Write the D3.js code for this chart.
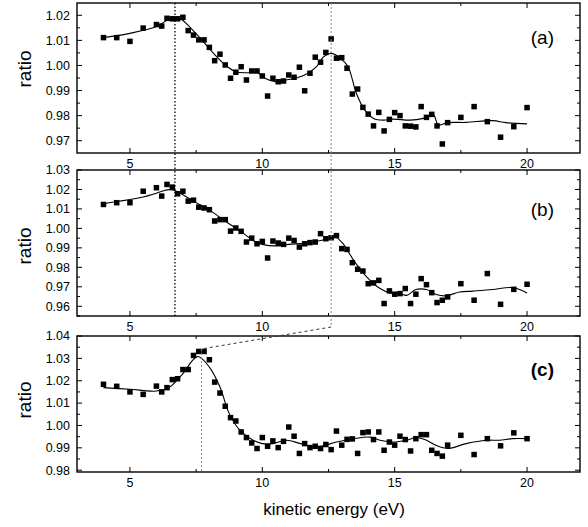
<!DOCTYPE html>
<html lang="en">
<head>
  <meta charset="UTF-8">
  <title>ratio vs kinetic energy</title>
  <script src="https://d3js.org/d3.v7.min.js"></script>
  <style>
    body { margin: 0; background: #fff; }
    svg { font-family: "Liberation Sans", Arial, sans-serif; }
    .tick-label { font-size: 12.5px; }
    .frame { fill: none; stroke: #000; stroke-width: 1.4px; }
    .fit { fill: none; stroke: #000; stroke-width: 1.1px; }
  </style>
</head>
<body>
<script>
// x values shared by all three panels (eV)
const energy = [4, 4.5, 5, 5.5,
  6, 6.2, 6.4, 6.6, 6.8, 7, 7.2, 7.4, 7.6, 7.8, 8, 8.2, 8.4, 8.6, 8.8, 9,
  9.2, 9.4, 9.6, 9.8, 10, 10.2, 10.4, 10.6, 10.8, 11, 11.2, 11.4, 11.6, 11.8, 12,
  12.2, 12.4, 12.6, 12.8, 13, 13.2, 13.4, 13.6, 13.8, 14, 14.2, 14.4, 14.6, 14.8, 15,
  15.2, 15.4, 15.6, 15.8, 16, 16.2, 16.4, 16.6, 16.8, 17,
  17.5, 18, 18.5, 19, 19.5, 20];

const ratioA = [1.0111, 1.0111, 1.0096, 1.0149,
  1.0163, 1.0157, 1.0188, 1.0186, 1.0186, 1.0192, 1.0139, 1.0121, 1.0102, 1.0102, 1.0072, 1.0019, 1.0045, 1.0002, 0.9949, 0.9973,
  0.9995, 0.9942, 0.9978, 0.9978, 0.9958, 0.9878, 0.9949, 0.9935, 0.9938, 0.9962, 0.9953, 0.9993, 0.9899, 0.9969, 1.0033,
  1.0013, 1.0052, 1.0106, 1.0029, 1.0031, 0.9989, 0.9886, 0.9906, 0.9833, 0.9806, 0.9759, 0.9813, 0.9739, 0.9785, 0.9812,
  0.9800, 0.9759, 0.9758, 0.9755, 0.9836, 0.9793, 0.9805, 0.9759, 0.9687, 0.9772,
  0.9793, 0.9836, 0.9776, 0.9714, 0.9756, 0.9832];

const ratioB = [1.0123, 1.0132, 1.0132, 1.0191,
  1.0209, 1.0166, 1.0226, 1.0212, 1.0178, 1.0191, 1.0140, 1.0145, 1.0109, 1.0105, 1.0096, 1.0038, 1.0045, 1.0045, 0.9986, 1.0002,
  0.9985, 0.9930, 0.9950, 0.9921, 0.9933, 0.9848, 0.9935, 0.9925, 0.9918, 0.9950, 0.9938, 0.9904, 0.9921, 0.9927, 0.9930,
  0.9973, 0.9947, 0.9952, 0.9963, 0.9896, 0.9892, 0.9824, 0.9790, 0.9781, 0.9716, 0.9720, 0.9733, 0.9614, 0.9679, 0.9662,
  0.9665, 0.9691, 0.9614, 0.9662, 0.9742, 0.9711, 0.9670, 0.9619, 0.9631, 0.9648,
  0.9716, 0.9631, 0.9768, 0.9610, 0.9687, 0.9713];

const ratioC = [1.0184, 1.0175, 1.0150, 1.0139,
  1.0176, 1.0150, 1.0169, 1.0205, 1.0209, 1.0250, 1.0250, 1.0313, 1.0331, 1.0331, 1.0294, 1.0194, 1.0145, 1.0086, 1.0035, 1.0020,
  0.9971, 0.9946, 0.9922, 0.9897, 0.9946, 0.9907, 0.9931, 0.9901, 0.9929, 0.9993, 0.9952, 0.9875, 0.9919, 0.9901, 0.9907,
  0.9897, 0.9915, 0.9892, 0.9975, 0.9912, 0.9938, 0.9940, 0.9875, 0.9968, 0.9971, 0.9937, 0.9971, 0.9889, 0.9926, 0.9912,
  0.9952, 0.9937, 0.9886, 0.9941, 0.9959, 0.9959, 0.9889, 0.9875, 0.9863, 0.9912,
  0.9956, 0.9870, 0.9941, 0.9909, 0.9967, 0.9941];

// smooth fit curves
const fitEnergyA = [4, 5, 6, 6.5, 6.9, 7.1, 7.6, 8.1, 8.6, 9, 9.4, 9.8, 10.1, 10.5, 10.9, 11.3, 11.6,
  12.05, 12.3, 12.55, 12.75, 12.95, 13.24, 13.55, 13.87, 14.2, 14.57, 14.95, 15.58, 16.08, 16.46, 16.65,
  17, 17.7, 18.7, 19.2, 20];
const fitRatioA = [1.0111, 1.0128, 1.0155, 1.0185, 1.0186, 1.0170, 1.0115, 1.0055, 1.0002, 0.9975, 0.9971, 0.9972, 0.9949, 0.9935, 0.9942, 0.9951, 0.9962,
  0.9995, 1.0033, 1.0048, 1.0044, 1.0029, 0.9995, 0.9889, 0.9822, 0.9789, 0.9782, 0.9786, 0.9782, 0.9789, 0.9803, 0.9763,
  0.9772, 0.9773, 0.9780, 0.9772, 0.9767];

const fitEnergyB = [4, 5.5, 6, 6.4, 6.6, 6.9, 7.4, 8, 8.65, 9.3, 9.65, 10, 10.5, 11, 11.67, 12.43, 12.75,
  13.07, 13.45, 13.95, 14.45, 14.83, 15.2, 15.45, 15.8, 16.2, 16.57, 16.95, 17.45, 17.95, 18.7, 19.45, 20];
const fitRatioB = [1.0127, 1.0161, 1.0181, 1.0198, 1.0198, 1.0181, 1.0140, 1.0094, 1.0033, 0.9973, 0.9938, 0.9918, 0.9910, 0.9918, 0.9925, 0.9944, 0.9956,
  0.9918, 0.9836, 0.9750, 0.9691, 0.9668, 0.9665, 0.9656, 0.9686, 0.9686, 0.9660, 0.9654, 0.9673, 0.9678, 0.9686, 0.9696, 0.9668];

const fitEnergyC = [4, 5, 6, 6.5, 7, 7.55, 8, 8.4, 8.75, 9.15, 9.65, 10, 10.4, 10.9, 11.45, 12.06, 12.8,
  13.45, 14.07, 14.45, 14.95, 15.45, 15.82, 16.2, 16.55, 17, 17.7, 18.45, 18.95, 19.45, 20];
const fitRatioC = [1.0169, 1.0162, 1.0154, 1.0172, 1.0232, 1.0308, 1.0261, 1.0172, 1.0053, 0.9979, 0.9934, 0.9919, 0.9919, 0.9934, 0.9919, 0.9904, 0.9926,
  0.9941, 0.9948, 0.9934, 0.9926, 0.9934, 0.9946, 0.9934, 0.9912, 0.9897, 0.9919, 0.9934, 0.9934, 0.9941, 0.9941];

const xTicks = [5, 10, 15, 20];
const yTicksA = [0.97, 0.98, 0.99, 1.00, 1.01, 1.02];
const yTicksB = [0.96, 0.97, 0.98, 0.99, 1.00, 1.01, 1.02, 1.03];
const yTicksC = [0.98, 0.99, 1.00, 1.01, 1.02, 1.03, 1.04];

const width = 588, height = 527;
const left = 77, right = 580;

const svg = d3.select("body").append("svg")
  .attr("width", width)
  .attr("height", height);

const x = d3.scaleLinear().domain([3, 22]).range([left, right]);

const panels = [
  { label: "(a)", top: 3, bottom: 153, domain: [0.9651, 1.0249], ticks: yTicksA, ratio: ratioA, fx: fitEnergyA, fy: fitRatioA, bold: false, labelY: 69, tagY: 44 },
  { label: "(b)", top: 170, bottom: 316, domain: [0.955, 1.03], ticks: yTicksB, ratio: ratioB, fx: fitEnergyB, fy: fitRatioB, bold: false, labelY: 246, tagY: 216 },
  { label: "(c)", top: 336, bottom: 472, domain: [0.9792, 1.04], ticks: yTicksC, ratio: ratioC, fx: fitEnergyC, fy: fitRatioC, bold: true, labelY: 400, tagY: 376 }
];

panels.forEach(p => {
  const y = d3.scaleLinear().domain(p.domain).range([p.bottom, p.top]);
  p.y = y;
  const g = svg.append("g");

  // minor y ticks every 0.005
  const minor = [];
  for (let i = 0; i < p.ticks.length - 1; i++) minor.push((p.ticks[i] + p.ticks[i + 1]) / 2);
  if (y(p.ticks[p.ticks.length - 1] + 0.005) >= p.top) minor.push(p.ticks[p.ticks.length - 1] + 0.005);
  if (y(p.ticks[0] - 0.005) <= p.bottom) minor.push(p.ticks[0] - 0.005);

  // left/right ticks (inward)
  const yt = g.append("g");
  p.ticks.forEach(t => {
    yt.append("line").attr("x1", left).attr("x2", left + 5).attr("y1", y(t)).attr("y2", y(t)).attr("stroke", "#000");
    yt.append("line").attr("x1", right).attr("x2", right - 5).attr("y1", y(t)).attr("y2", y(t)).attr("stroke", "#000");
  });
  minor.forEach(t => {
    yt.append("line").attr("x1", left).attr("x2", left + 3).attr("y1", y(t)).attr("y2", y(t)).attr("stroke", "#000");
    yt.append("line").attr("x1", right).attr("x2", right - 3).attr("y1", y(t)).attr("y2", y(t)).attr("stroke", "#000");
  });
  g.selectAll(".ylab").data(p.ticks).enter().append("text")
    .attr("class", "tick-label")
    .attr("x", left - 7).attr("y", d => y(d)).attr("dy", "0.35em")
    .attr("text-anchor", "end")
    .text(d3.format(".2f"));

  // x ticks on top and bottom (inward), minor at half steps
  const xMinor = [7.5, 12.5, 17.5];
  xTicks.concat(xMinor).forEach(t => {
    const len = xTicks.includes(t) ? 5 : 3;
    g.append("line").attr("x1", x(t)).attr("x2", x(t)).attr("y1", p.bottom).attr("y2", p.bottom - len).attr("stroke", "#000");
    g.append("line").attr("x1", x(t)).attr("x2", x(t)).attr("y1", p.top).attr("y2", p.top + len).attr("stroke", "#000");
  });
  g.selectAll(".xlab").data(xTicks).enter().append("text")
    .attr("class", "tick-label")
    .attr("x", d => x(d)).attr("y", p.bottom + 15)
    .attr("text-anchor", "middle")
    .text(d => d);

  g.append("rect").attr("class", "frame")
    .attr("x", left).attr("y", p.top)
    .attr("width", right - left).attr("height", p.bottom - p.top);

  // y label
  g.append("text")
    .attr("transform", `translate(31,${p.labelY}) rotate(-90)`)
    .attr("text-anchor", "middle")
    .style("font-size", "19px")
    .text("ratio");

  // panel label
  g.append("text")
    .attr("x", 554).attr("y", p.tagY)
    .attr("text-anchor", "end")
    .style("font-size", "19px")
    .style("font-weight", p.bold ? "bold" : "normal")
    .text(p.label);

  // fit curve
  const line = d3.line().x(d => x(d[0])).y(d => y(d[1])).curve(d3.curveCatmullRom);
  g.append("path").attr("class", "fit")
    .attr("d", line(p.fx.map((e, i) => [e, p.fy[i]])));

  // data squares
  g.selectAll(".pt").data(energy.map((e, i) => [e, p.ratio[i]])).enter().append("rect")
    .attr("x", d => x(d[0]) - 2.75).attr("y", d => p.y(d[1]) - 2.75)
    .attr("width", 5.5).attr("height", 5.5)
    .attr("fill", "#000");
});

// guide lines
const ref1 = 6.7, ref2 = 12.6, ref3 = 7.7;
const guides = svg.append("g").attr("fill", "none");
guides.append("line")
  .attr("x1", x(ref1)).attr("x2", x(ref1))
  .attr("y1", panels[0].top).attr("y2", panels[1].bottom)
  .attr("stroke", "#000").attr("stroke-width", 1.3).attr("stroke-dasharray", "1.5,2");
guides.append("line")
  .attr("x1", x(ref2)).attr("x2", x(ref2))
  .attr("y1", panels[0].top).attr("y2", panels[1].bottom + 11)
  .attr("stroke", "#888").attr("stroke-width", 1).attr("stroke-dasharray", "2,2");
guides.append("line")
  .attr("x1", x(ref2)).attr("y1", panels[1].bottom + 11)
  .attr("x2", x(ref3)).attr("y2", panels[2].y(1.0342))
  .attr("stroke", "#333").attr("stroke-width", 1).attr("stroke-dasharray", "3,3");
guides.append("line")
  .attr("x1", x(ref3)).attr("x2", x(ref3))
  .attr("y1", panels[2].y(1.0342)).attr("y2", panels[2].bottom)
  .attr("stroke", "#888").attr("stroke-width", 1).attr("stroke-dasharray", "2,2");

svg.append("text")
  .attr("x", 334).attr("y", 515)
  .attr("text-anchor", "middle")
  .style("font-size", "17px")
  .text("kinetic energy (eV)");
</script>
</body>
</html>
